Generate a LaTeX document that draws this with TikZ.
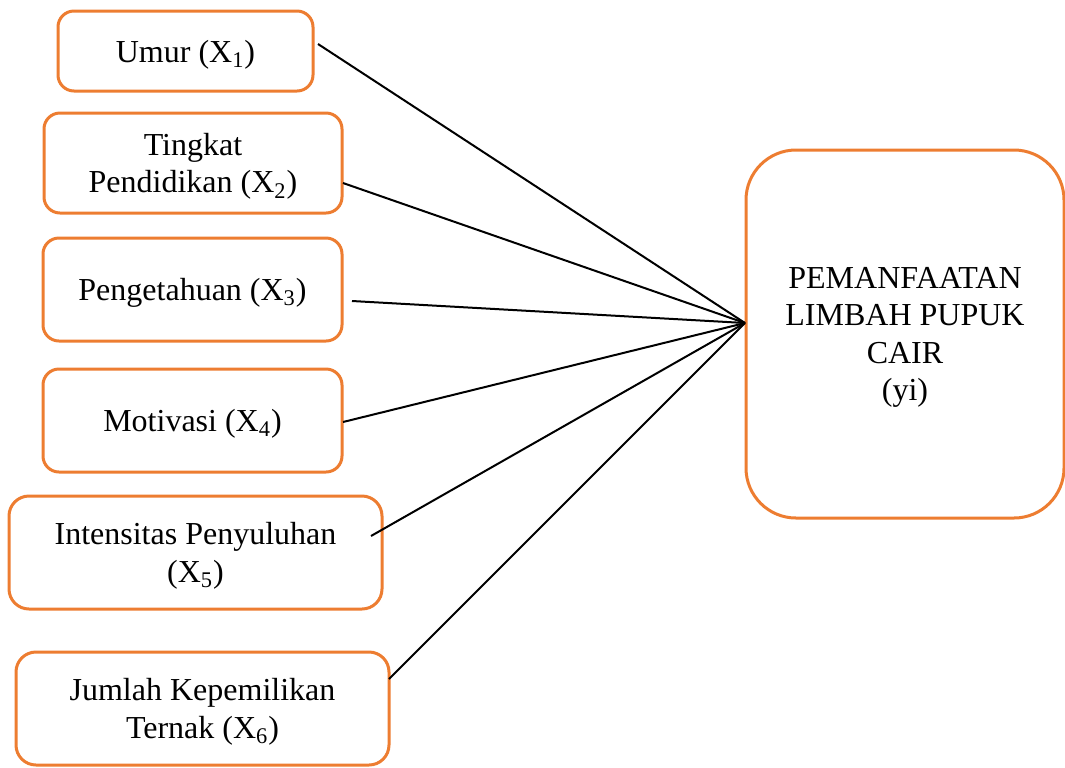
\documentclass[tikz,border=0pt]{standalone}
\usepackage{fontspec}
\setmainfont{Liberation Serif}
\definecolor{boxorange}{HTML}{ED7D31}
\begin{document}
\begin{tikzpicture}[x=0.5pt,y=-0.5pt,
  vbox/.style={draw=boxorange, line width=1.5pt, rounded corners=8pt, align=center,
    inner sep=0pt, text depth=0pt, font=\fontsize{16}{18.8}\selectfont},
  link/.style={line width=1pt, draw=black}]
\useasboundingbox (0,0) rectangle (1065,767);
\node[vbox, minimum width=127.5pt, minimum height=40pt] (u1) at (185.5,51) {Umur (X\textsubscript{1})};
\node[vbox, minimum width=149pt, minimum height=50pt] (u2) at (193,163) {Tingkat\\Pendidikan (X\textsubscript{2})};
\node[vbox, minimum width=149.5pt, minimum height=51.5pt] (u3) at (192.5,289.5) {Pengetahuan (X\textsubscript{3})};
\node[vbox, minimum width=149.5pt, minimum height=51.5pt] (u4) at (192.5,420.5) {Motivasi (X\textsubscript{4})};
\node[vbox, minimum width=186.5pt, minimum height=56.5pt, rounded corners=10pt] (u5) at (195.5,552.5) {Intensitas Penyuluhan\\(X\textsubscript{5})};
\node[vbox, minimum width=186.5pt, minimum height=56.5pt, rounded corners=10pt] (u6) at (202.5,708.5) {Jumlah Kepemilikan\\Ternak (X\textsubscript{6})};
\node[vbox, minimum width=159pt, minimum height=184pt, rounded corners=25pt] (y) at (905,334) {PEMANFAATAN\\LIMBAH PUPUK\\CAIR\\(yi)};
\coordinate (hub) at (745,323);
\coordinate (s1) at (318,44);
\coordinate (s2) at (343,183);
\coordinate (s3) at (352,301);
\coordinate (s4) at (343,422);
\coordinate (s5) at (371,536);
\coordinate (s6) at (389,679);
\foreach \s in {s1,s2,s3,s4,s5,s6} \draw[link] (\s) -- (hub);
\end{tikzpicture}
\end{document}
